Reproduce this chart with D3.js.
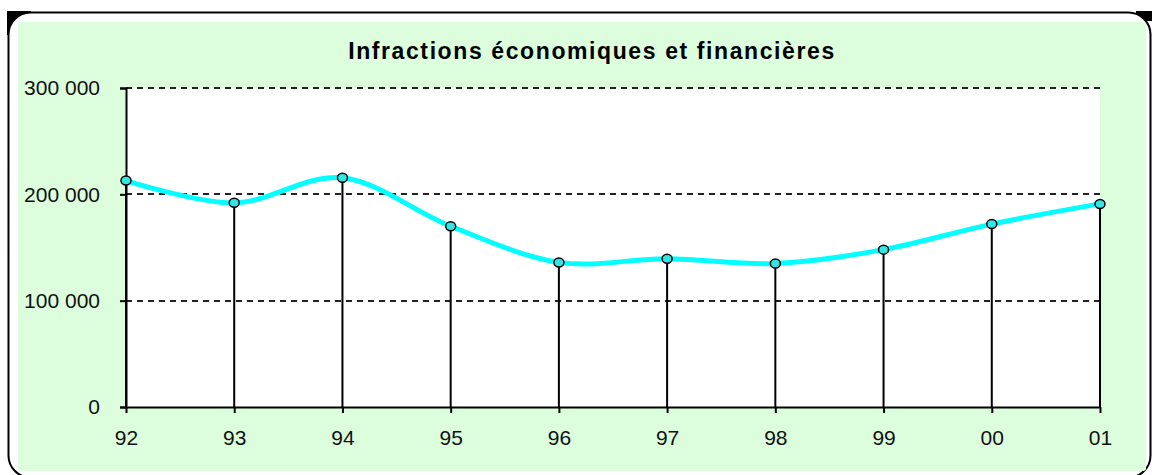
<!DOCTYPE html>
<html>
<head>
<meta charset="utf-8">
<script src="https://cdn.jsdelivr.net/npm/d3@7"></script>
<style>
  body { margin: 0; background: #fff; }
  svg { display: block; font-family: Arial, "Liberation Sans", sans-serif; }
</style>
</head>
<body>
<svg id="chart"></svg>
<script>
// Data
const years = ["92", "93", "94", "95", "96", "97", "98", "99", "00", "01"];
const offences = [213000, 192000, 215500, 170000, 136000, 139500, 135000, 148000, 172000, 191000];
const yTicks = [0, 100000, 200000, 300000];
const title = "Infractions économiques et financières";

const W = 1152, H = 475;
// plot area inside the frame
const plot = {left: 126, right: 1100, top: 88, bottom: 407};

const svg = d3.select("#chart")
    .attr("width", W)
    .attr("height", H);

// Frame: black corner bits, white rounded box, green panel
svg.append("rect")
    .attr("x", 7).attr("y", 11)
    .attr("width", 24).attr("height", 24)
    .attr("fill", "#000");
svg.append("rect")
    .attr("x", 1136).attr("y", 11)
    .attr("width", 16).attr("height", 10)
    .attr("fill", "#000");
svg.append("rect")
    .attr("x", 8.5).attr("y", 12.5)
    .attr("width", 1142).attr("height", 465)
    .attr("rx", 22).attr("ry", 22)
    .attr("fill", "#fff")
    .attr("stroke", "#000")
    .attr("stroke-width", 2);
svg.append("rect")
    .attr("x", 18).attr("y", 22)
    .attr("width", 1128).attr("height", 449)
    .attr("rx", 3)
    .attr("fill", "#dcfedc");

// plot background
svg.append("rect")
    .attr("x", plot.left).attr("y", plot.top)
    .attr("width", plot.right - plot.left)
    .attr("height", plot.bottom - plot.top)
    .attr("fill", "#fff");

// Title
svg.append("text")
    .attr("x", 592).attr("y", 59)
    .attr("text-anchor", "middle")
    .attr("font-size", 23)
    .attr("font-weight", "bold")
    .attr("letter-spacing", 1.6)
    .attr("fill", "#000")
    .text(title);

// Scales
const xScale = d3.scalePoint()
    .domain(years)
    .range([plot.left, plot.right]);

const yScale = d3.scaleLinear()
    .domain([0, 300000])
    .range([plot.bottom, plot.top]);

const fmt = d => d3.format(",")(d).replace(/,/g, " ");

// Dashed gridlines
svg.append("g")
    .selectAll("line")
    .data(yTicks.filter(d => d > 0))
    .join("line")
    .attr("x1", plot.left).attr("x2", plot.right)
    .attr("y1", d => yScale(d)).attr("y2", d => yScale(d))
    .attr("stroke", "#222")
    .attr("stroke-width", 2)
    .attr("stroke-dasharray", "6,5")
    .attr("shape-rendering", "crispEdges");

// Y axis
const yAxis = svg.append("g")
    .attr("transform", `translate(${plot.left},0)`)
    .call(d3.axisLeft(yScale).tickValues(yTicks).tickFormat(fmt).tickSize(6).tickPadding(20));
yAxis.select(".domain").attr("stroke", "#000").attr("stroke-width", 2);
yAxis.selectAll(".tick line").attr("stroke", "#000").attr("stroke-width", 2);
yAxis.selectAll(".tick text")
    .attr("font-size", 21)
    .attr("font-family", "Arial, 'Liberation Sans', sans-serif")
    .attr("fill", "#111");

// Drop lines from each point to the axis
svg.append("g")
    .selectAll("line")
    .data(years)
    .join("line")
    .attr("x1", d => xScale(d)).attr("x2", d => xScale(d))
    .attr("y1", (d, i) => yScale(offences[i]))
    .attr("y2", plot.bottom)
    .attr("stroke", "#000")
    .attr("stroke-width", 2);

// X axis
const xAxis = svg.append("g")
    .attr("transform", `translate(0,${plot.bottom})`)
    .call(d3.axisBottom(xScale).tickSize(6).tickPadding(17).tickSizeOuter(0));
xAxis.select(".domain").attr("stroke", "#000").attr("stroke-width", 2);
xAxis.selectAll(".tick line").attr("stroke", "#000").attr("stroke-width", 2);
xAxis.selectAll(".tick text")
    .attr("font-size", 21)
    .attr("font-family", "Arial, 'Liberation Sans', sans-serif")
    .attr("fill", "#111");

// Smoothed series line
const line = d3.line()
    .x((d, i) => xScale(years[i]))
    .y(d => yScale(d))
    .curve(d3.curveCatmullRom.alpha(0));

svg.append("path")
    .datum(offences)
    .attr("d", line)
    .attr("fill", "none")
    .attr("stroke", "#00ffff")
    .attr("stroke-width", 5)
    .attr("stroke-linejoin", "round");

// Markers
svg.append("g")
    .selectAll("ellipse")
    .data(offences)
    .join("ellipse")
    .attr("cx", (d, i) => xScale(years[i]))
    .attr("cy", d => yScale(d))
    .attr("rx", 5).attr("ry", 4.5)
    .attr("fill", "#33e6e6")
    .attr("stroke", "#000")
    .attr("stroke-width", 1.5);
</script>
</body>
</html>
